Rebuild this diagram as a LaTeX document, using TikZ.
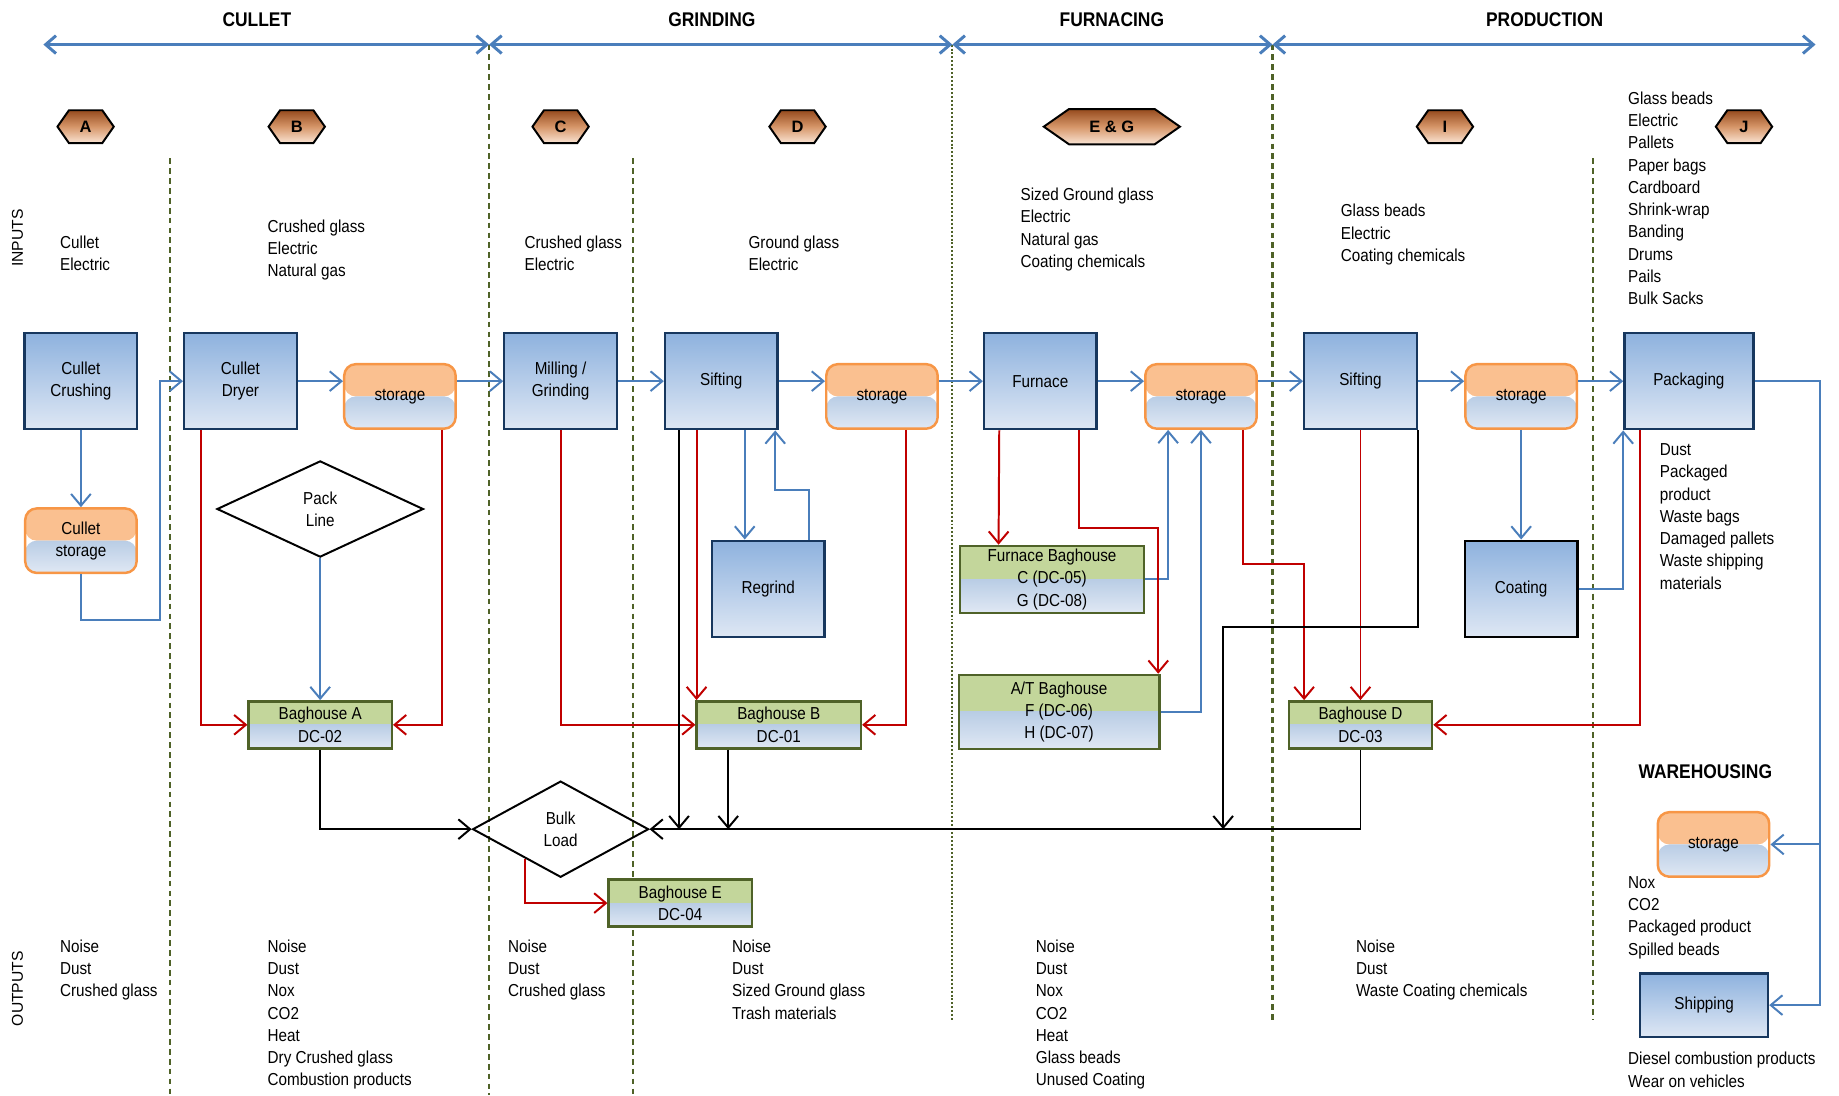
\documentclass[tikz,border=0pt]{standalone}
\usepackage{fontspec}
\setmainfont{Liberation Sans}[FakeStretch=0.88]
\newfontfamily\widesans{Liberation Sans}
\usepackage{tikz}
\usetikzlibrary{arrows.meta,shapes.geometric,shapes.symbols,calc}

\definecolor{flowblue}{RGB}{74,126,187}
\definecolor{dustred}{RGB}{192,0,0}
\definecolor{navy}{RGB}{23,55,94}
\definecolor{procT}{RGB}{142,178,222}
\definecolor{procB}{RGB}{222,231,244}
\definecolor{orgT}{RGB}{250,192,144}
\definecolor{orgB}{RGB}{247,150,70}
\definecolor{grnT}{RGB}{195,214,155}
\definecolor{grnB}{RGB}{79,98,40}
\definecolor{pale}{RGB}{185,205,229}
\definecolor{paler}{RGB}{224,232,244}
\definecolor{hexT}{RGB}{150,75,30}
\definecolor{hexM}{RGB}{214,150,105}
\definecolor{hexB}{RGB}{250,228,212}

\begin{document}
\begin{tikzpicture}[x=0.025cm, y=-0.025cm,
    font=\fontsize{10.5}{13.5}\selectfont,
    proc/.style={draw=navy, line width=1.4pt, top color=procT, bottom color=procB, minimum width=2.4cm, minimum height=2.05cm, align=center},
    store/.style={draw=orgB, line width=1.5pt, rounded corners=7pt, minimum width=2.375cm, minimum height=1.375cm, align=center,
        path picture={\fill[orgT] (path picture bounding box.north west) rectangle (path picture bounding box.east);
            \shade[top color=pale, bottom color=paler] (path picture bounding box.west) rectangle (path picture bounding box.south east);}},
    bag/.style={draw=grnB, line width=1.5pt, minimum width=3.05cm, minimum height=1cm, inner sep=1pt, align=center,
        path picture={\fill[grnT] (path picture bounding box.north west) rectangle (path picture bounding box.east);
            \shade[top color=pale, bottom color=paler] (path picture bounding box.west) rectangle (path picture bounding box.south east);}},
    gate/.style={diamond, draw=black, line width=1.2pt, align=center, inner sep=0pt},
    hexa/.style={signal, signal to=east and west, signal pointer angle=110, draw=black, line width=1.2pt,
        top color=hexT, bottom color=hexB, middle color=hexM, minimum width=1.2cm, minimum height=0.7cm, inner sep=1pt,
        font=\widesans\fontsize{10}{11}\selectfont\bfseries},
    stage/.style={font=\fontsize{12}{14}\selectfont\bfseries},
    txt/.style={anchor=north west, align=left, inner sep=0pt},
    divline/.style={draw=grnB, line width=1.3pt, dash pattern=on 3.5pt off 2.5pt},
    spanline/.style={draw=flowblue, line width=1.8pt, {Straight Barb[length=2.2mm,width=3.8mm]}-{Straight Barb[length=2.2mm,width=3.8mm]}},
    flowline/.style={draw=flowblue, line width=1.2pt, -{Straight Barb[length=2.5mm,width=4.2mm]}},
    dustline/.style={draw=dustred, line width=1.2pt, -{Straight Barb[length=2.5mm,width=4.2mm]}},
    bulkline/.style={draw=black, line width=1.2pt, -{Straight Barb[length=2.5mm,width=4.2mm]}}
]
\useasboundingbox (0,0) rectangle (1568,934);

\coordinate (b0) at (37,38);
\coordinate (b1) at (417,38);
\coordinate (b2) at (812,38);
\coordinate (b3) at (1085,38);
\coordinate (b4) at (1548,38);

\draw[divline] (145,135) -- (145,934);
\draw[divline] (b1) -- (417,934);
\draw[divline] (540,135) -- (540,934);
\draw[divline, dash pattern=on 1.2pt off 1.2pt] (b2) -- (812,870);
\draw[divline] (b3) -- (1085,870);
\draw[divline] (1358,135) -- (1358,870);

\draw[spanline] (b0) -- (b1);
\draw[spanline] (b1) -- (b2);
\draw[spanline] (b2) -- (b3);
\draw[spanline] (b3) -- (b4);

\node[stage] (tcullet) at (219,17) {CULLET};
\node[stage] (tgrind) at (607,17) {GRINDING};
\node[stage] (tfurn) at (948,17) {FURNACING};
\node[stage] (tprod) at (1317,17) {PRODUCTION};

\node[hexa] (hA) at (73,108) {A};
\node[hexa] (hB) at (253,108) {B};
\node[hexa] (hC) at (478,108) {C};
\node[hexa] (hD) at (680,108) {D};
\node[hexa, minimum width=2.9cm, minimum height=0.75cm, signal pointer angle=70] (hEG) at (948,108) {E \& G};
\node[hexa] (hI) at (1232,108) {I};
\node[hexa] (hJ) at (1487,108) {J};

\node[rotate=90, font=\widesans\fontsize{9.5}{11}\selectfont] (inputs) at (15,203) {INPUTS};
\node[rotate=90, font=\widesans\fontsize{9.5}{11}\selectfont] (outputs) at (15,843) {OUTPUTS};

\node[txt] (in1) at (51,201) {Cullet\\Electric};
\node[txt] (in2) at (228,187) {Crushed glass\\Electric\\Natural gas};
\node[txt] (in3) at (447,201) {Crushed glass\\Electric};
\node[txt] (in4) at (638,201) {Ground glass\\Electric};
\node[txt] (in5) at (870,160) {Sized Ground glass\\Electric\\Natural gas\\Coating chemicals};
\node[txt] (in6) at (1143,174) {Glass beads\\Electric\\Coating chemicals};
\node[txt] (in7) at (1388,78) {Glass beads\\Electric\\Pallets\\Paper bags\\Cardboard\\Shrink-wrap\\Banding\\Drums\\Pails\\Bulk Sacks};

\node[proc] (crush) at (69,325) {Cullet\\Crushing};
\node[proc] (dryer) at (205,325) {Cullet\\Dryer};
\node[store] (st1) at (341,338) {storage};
\node[proc] (mill) at (478,325) {Milling /\\Grinding};
\node[proc] (sift1) at (615,325) {Sifting};
\node[store] (st2) at (752,338) {storage};
\node[proc] (furn) at (887,325) {Furnace};
\node[store] (st3) at (1024,338) {storage};
\node[proc] (sift2) at (1160,325) {Sifting};
\node[store] (st4) at (1297,338) {storage};
\node[proc, minimum width=2.75cm] (pack) at (1440,325) {Packaging};
\node[store] (cstore) at (69,461) {Cullet\\storage};
\node[proc] (regrind) at (655,502) {Regrind};
\node[proc, draw=black] (coat) at (1297,502) {Coating};
\node[store] (wstore) at (1461,720) {storage};
\node[proc, minimum width=2.725cm, minimum height=1.35cm] (ship) at (1453,857) {Shipping};

\node[gate, minimum width=4.4cm, minimum height=2.05cm] (packline) at (273,434) {Pack\\Line};
\node[gate, minimum width=3.75cm, minimum height=2.05cm] (bulk) at (478,707) {Bulk\\Load};

\node[bag] (bagA) at (273,618) {Baghouse A\\DC-02};
\node[bag, minimum width=3.5cm] (bagB) at (664,618) {Baghouse B\\DC-01};
\node[bag] (bagD) at (1160,618) {Baghouse D\\DC-03};
\node[bag] (bagE) at (580,770) {Baghouse E\\DC-04};
\node[bag, minimum width=3.925cm, minimum height=1.425cm] (fbag) at (897,494) {Furnace Baghouse\\C (DC-05)\\G (DC-08)};
\node[bag, minimum width=4.275cm, minimum height=1.575cm] (atbag) at (903,607) {A/T Baghouse\\F (DC-06)\\H (DC-07)};

\node[txt] (packout) at (1415,378) {Dust\\Packaged\\product\\Waste bags\\Damaged pallets\\Waste shipping\\materials};
\node[stage] (wh) at (1454,658) {WAREHOUSING};
\node[txt] (whout) at (1388,747) {Nox\\CO2\\Packaged product\\Spilled beads};
\node[txt] (shipout) at (1388,897) {Diesel combustion products\\Wear on vehicles};

\node[txt] (out1) at (51,801) {Noise\\Dust\\Crushed glass};
\node[txt] (out2) at (228,801) {Noise\\Dust\\Nox\\CO2\\Heat\\Dry Crushed glass\\Combustion products};
\node[txt] (out3) at (433,801) {Noise\\Dust\\Crushed glass};
\node[txt] (out4) at (624,801) {Noise\\Dust\\Sized Ground glass\\Trash materials};
\node[txt] (out5) at (883,801) {Noise\\Dust\\Nox\\CO2\\Heat\\Glass beads\\Unused Coating};
\node[txt] (out6) at (1156,801) {Noise\\Dust\\Waste Coating chemicals};

\draw[flowline] (crush) -- (cstore);
\draw[flowline] (cstore.south) |- ($(dryer.west)+(-20,204)$) |- (dryer.west);
\draw[flowline] (dryer) -- (dryer.east -| st1.west);
\draw[flowline] (st1.east |- mill.west) -- (mill);
\draw[flowline] (mill) -- (sift1);
\draw[flowline] (sift1) -- (sift1.east -| st2.west);
\draw[flowline] (st2.east |- furn.west) -- (furn);
\draw[flowline] (furn) -- (furn.east -| st3.west);
\draw[flowline] (st3.east |- sift2.west) -- (sift2);
\draw[flowline] (sift2) -- (sift2.east -| st4.west);
\draw[flowline] (st4.east |- pack.west) -- (pack);
\draw[flowline] ($(sift1.south)+(20,0)$) -- ($(regrind.north)+(-20,0)$);
\draw[flowline] ($(regrind.north)+(35,0)$) |- ($(sift1.south)+(46,51)$) -- ($(sift1.south)+(46,0)$);
\draw[flowline] (packline) -- (bagA);
\draw[flowline] (st4) -- (coat);
\draw[flowline] (coat.east) -| (pack.south west);
\draw[flowline] (pack.east) -| ($(wstore.east)+(42,0)$) -- (wstore.east);
\draw[flowline] ($(wstore.east)+(42,0)$) |- (ship.east);
\draw[flowline] (fbag.east) -| ($(st3.south)+(-28,0)$);
\draw[flowline] (atbag.east) -| (st3.south);

\draw[dustline] ($(dryer.south west)+(15,0)$) |- (bagA.west);
\draw[dustline] ($(st1.south east)+(-13,0)$) |- (bagA.east);
\draw[dustline] (mill.south) |- (bagB.west);
\draw[dustline] ($(sift1.south -| bagB.west)+(1,0)$) -- ($(bagB.north west)+(1,0)$);
\draw[dustline] ($(st2.south east)+(-28,0)$) |- (bagB.east);
\draw[dustline] ($(furn.south west)+(14,0)$) -- ($(fbag.north west)+(34,0)$);
\draw[dustline] ($(furn.south west)+(82,0)$) |- ($(atbag.north east)+(-2,-124)$) -- ($(atbag.north east)+(-2,0)$);
\draw[dustline] ($(st3.south east)+(-13,0)$) |- ($(bagD.north west)+(14,-116)$) -- ($(bagD.north west)+(14,0)$);
\draw[dustline] (sift2) -- (bagD);
\draw[dustline] ($(pack.south west)+(14,0)$) |- (bagD.east);
\draw[dustline] ($(bulk.west)!0.6!(bulk.south)$) |- (bagE.west);

\draw[bulkline] (bagA.south) |- (bulk.west);
\draw[bulkline] ($(sift1.south west)+(13,0)$) -- ($(sift1.south west |- bulk.east)+(13,0)$);
\draw[bulkline] ($(bagB.south west)+(28,0)$) -- ($(bagB.south west |- bulk.east)+(28,0)$);
\draw[bulkline] (sift2.south east) |- ($(bagD.north west)+(-55,-62)$) -- ($(bagD.north west |- bulk.east)+(-55,0)$);
\draw[bulkline] (bagD.south) |- (bulk.east);
\end{tikzpicture}
\end{document}
